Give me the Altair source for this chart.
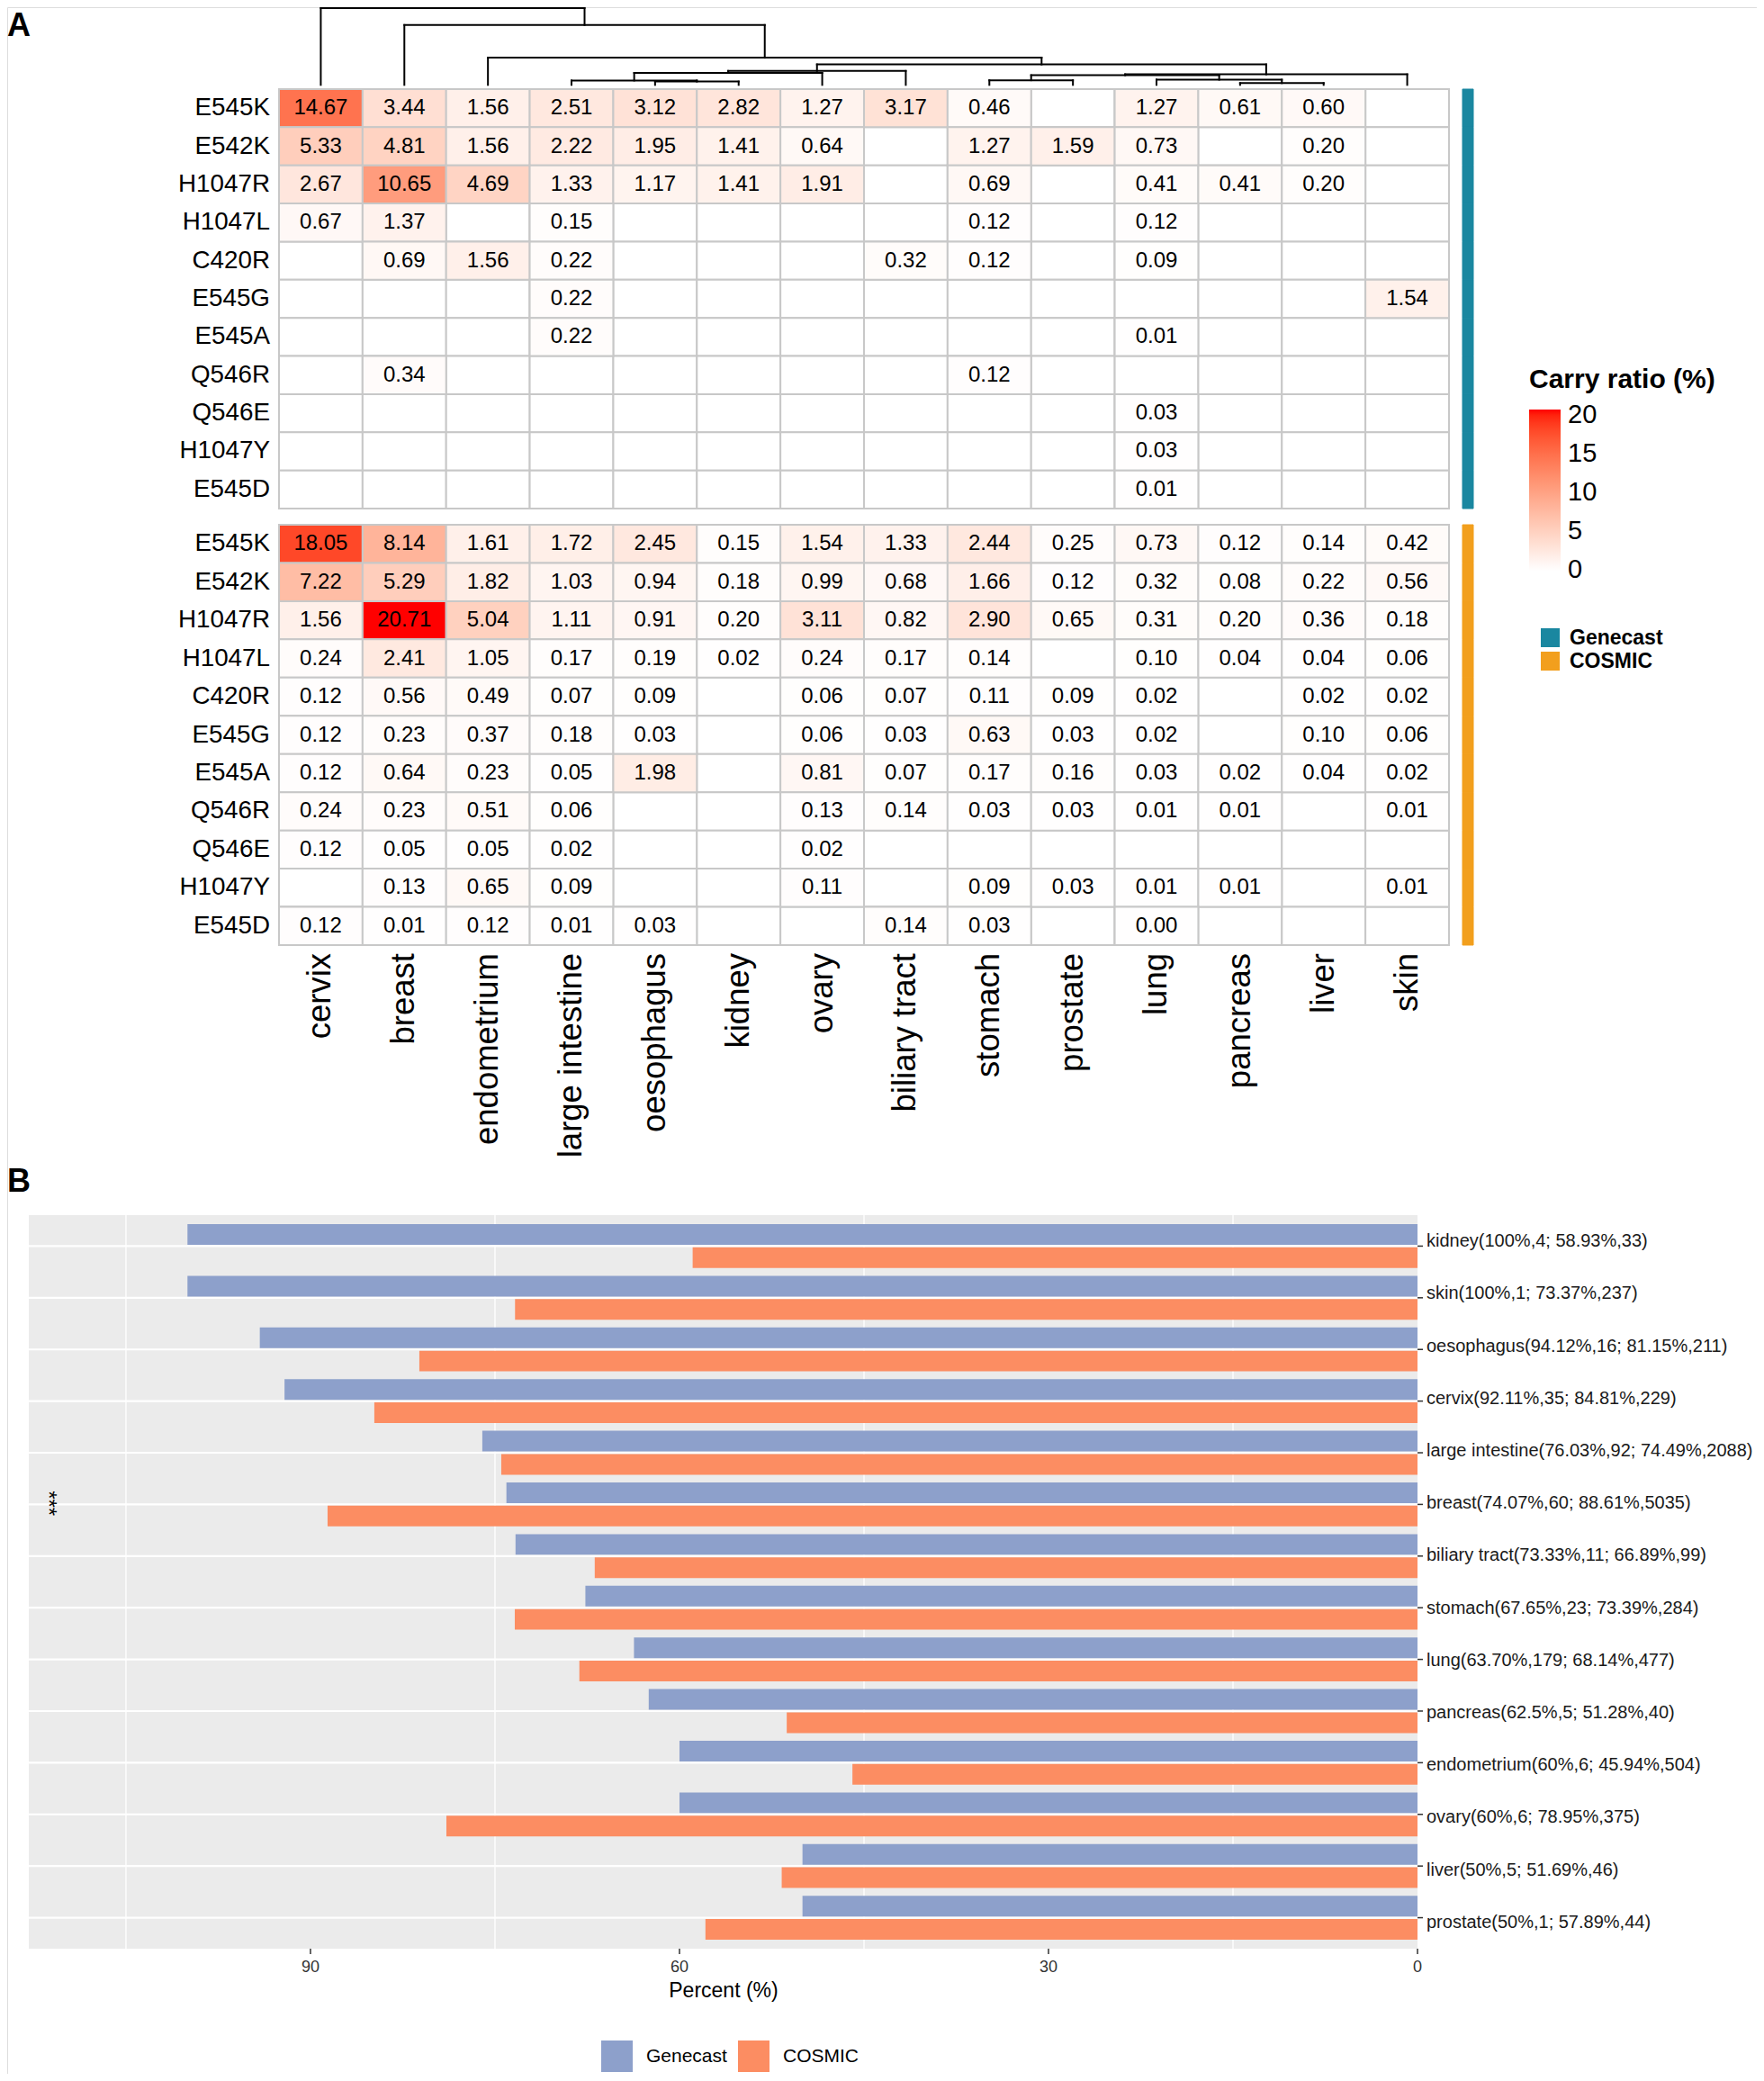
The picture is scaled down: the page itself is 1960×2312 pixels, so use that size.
import altair as alt
import pandas as pd

# ---------------- data ----------------
tissues = ["cervix", "breast", "endometrium", "large intestine", "oesophagus", "kidney",
           "ovary", "biliary tract", "stomach", "prostate", "lung", "pancreas", "liver", "skin"]
mutations = ["E545K", "E542K", "H1047R", "H1047L", "C420R", "E545G", "E545A",
             "Q546R", "Q546E", "H1047Y", "E545D"]
N = None
genecast_ratio = [
    [14.67, 3.44, 1.56, 2.51, 3.12, 2.82, 1.27, 3.17, 0.46, N, 1.27, 0.61, 0.60, N],
    [5.33, 4.81, 1.56, 2.22, 1.95, 1.41, 0.64, N, 1.27, 1.59, 0.73, N, 0.20, N],
    [2.67, 10.65, 4.69, 1.33, 1.17, 1.41, 1.91, N, 0.69, N, 0.41, 0.41, 0.20, N],
    [0.67, 1.37, N, 0.15, N, N, N, N, 0.12, N, 0.12, N, N, N],
    [N, 0.69, 1.56, 0.22, N, N, N, 0.32, 0.12, N, 0.09, N, N, N],
    [N, N, N, 0.22, N, N, N, N, N, N, N, N, N, 1.54],
    [N, N, N, 0.22, N, N, N, N, N, N, 0.01, N, N, N],
    [N, 0.34, N, N, N, N, N, N, 0.12, N, N, N, N, N],
    [N, N, N, N, N, N, N, N, N, N, 0.03, N, N, N],
    [N, N, N, N, N, N, N, N, N, N, 0.03, N, N, N],
    [N, N, N, N, N, N, N, N, N, N, 0.01, N, N, N],
]
cosmic_ratio = [
    [18.05, 8.14, 1.61, 1.72, 2.45, 0.15, 1.54, 1.33, 2.44, 0.25, 0.73, 0.12, 0.14, 0.42],
    [7.22, 5.29, 1.82, 1.03, 0.94, 0.18, 0.99, 0.68, 1.66, 0.12, 0.32, 0.08, 0.22, 0.56],
    [1.56, 20.71, 5.04, 1.11, 0.91, 0.20, 3.11, 0.82, 2.90, 0.65, 0.31, 0.20, 0.36, 0.18],
    [0.24, 2.41, 1.05, 0.17, 0.19, 0.02, 0.24, 0.17, 0.14, N, 0.10, 0.04, 0.04, 0.06],
    [0.12, 0.56, 0.49, 0.07, 0.09, N, 0.06, 0.07, 0.11, 0.09, 0.02, N, 0.02, 0.02],
    [0.12, 0.23, 0.37, 0.18, 0.03, N, 0.06, 0.03, 0.63, 0.03, 0.02, N, 0.10, 0.06],
    [0.12, 0.64, 0.23, 0.05, 1.98, N, 0.81, 0.07, 0.17, 0.16, 0.03, 0.02, 0.04, 0.02],
    [0.24, 0.23, 0.51, 0.06, N, N, 0.13, 0.14, 0.03, 0.03, 0.01, 0.01, N, 0.01],
    [0.12, 0.05, 0.05, 0.02, N, N, 0.02, N, N, N, N, N, N, N],
    [N, 0.13, 0.65, 0.09, N, N, 0.11, N, 0.09, 0.03, 0.01, 0.01, N, 0.01],
    [0.12, 0.01, 0.12, 0.01, 0.03, N, N, 0.14, 0.03, N, 0.00, N, N, N],
]
# column dendrogram: (left child, right child, merge height); "#k" = k-th merge
dendro_merges = [
    ("oesophagus", "kidney", 3.8),
    ("large intestine", "#0", 5.0),
    ("#1", "ovary", 13.6),
    ("#2", "biliary tract", 15.9),
    ("pancreas", "liver", 2.0),
    ("lung", "#4", 5.9),
    ("stomach", "prostate", 5.3),
    ("#6", "#5", 11.0),
    ("#7", "skin", 12.0),
    ("#3", "#8", 23.3),
    ("endometrium", "#9", 31.0),
    ("breast", "#10", 68.3),
    ("cervix", "#11", 87.6),
]
sources = ["Genecast", "COSMIC"]
legend_ticks = [0, 5, 10, 15, 20]

bar_tissues = ["kidney", "skin", "oesophagus", "cervix", "large intestine", "breast",
               "biliary tract", "stomach", "lung", "pancreas", "endometrium", "ovary",
               "liver", "prostate"]
genecast_pct = [100, 100, 94.12, 92.11, 76.03, 74.07, 73.33, 67.65, 63.70, 62.5, 60, 60, 50, 50]
cosmic_pct = [58.93, 73.37, 81.15, 84.81, 74.49, 88.61, 66.89, 73.39, 68.14, 51.28,
              45.94, 78.95, 51.69, 57.89]
bar_labels = ["kidney(100%,4; 58.93%,33)", "skin(100%,1; 73.37%,237)",
              "oesophagus(94.12%,16; 81.15%,211)", "cervix(92.11%,35; 84.81%,229)",
              "large intestine(76.03%,92; 74.49%,2088)", "breast(74.07%,60; 88.61%,5035)",
              "biliary tract(73.33%,11; 66.89%,99)", "stomach(67.65%,23; 73.39%,284)",
              "lung(63.70%,179; 68.14%,477)", "pancreas(62.5%,5; 51.28%,40)",
              "endometrium(60%,6; 45.94%,504)", "ovary(60%,6; 78.95%,375)",
              "liver(50%,5; 51.69%,46)", "prostate(50%,1; 57.89%,44)"]
x_ticks = [0, 30, 60, 90]
x_grid = [15, 45, 75, 105]
signif_tissue = ["breast"]
signif_text = ["***"]
signif_x = [111.4]

# ---------------- layout helpers ----------------
FONT = "Liberation Sans"
M = 8
def px(v):
    return v - M

GRID = "#C8C8C8"
HEAT_DOMAIN = [-0.06, 20.71]
heat_scale = alt.Scale(domain=HEAT_DOMAIN, range=["#FFFFFF", "#FF0000"], interpolate="lab",
                       nice=False, zero=False)
src_scale = alt.Scale(domain=sources, range=["#1A87A0", "#F29F1D"])
bar_col_scale = alt.Scale(domain=sources, range=["#8DA0CB", "#FC8D62"])

LEG_X, LEG_Y, TITLE_FS, TITLE_PAD, GRAD_LEN, GRAD_W = 1699, 407, 30, 18, 179, 35
heat_legend = alt.Legend(orient="none", legendX=px(LEG_X), legendY=px(LEG_Y),
                         title="Carry ratio (%)", titleFont=FONT, titleFontSize=TITLE_FS,
                         titleFontWeight="bold", titleColor="black", titlePadding=TITLE_PAD,
                         titleLimit=500, labelFont=FONT, labelFontSize=29, labelColor="black",
                         labelOffset=8, gradientLength=GRAD_LEN, gradientThickness=GRAD_W,
                         gradientStrokeWidth=0, values=legend_ticks,
                         direction="vertical", labelOverlap=False, padding=0)
src_legend = alt.Legend(orient="none", legendX=px(1711), legendY=px(697), title=None,
                        symbolType="square", symbolSize=441, symbolStrokeWidth=0,
                        labelFont=FONT, labelFontSize=23, labelFontWeight="bold",
                        labelColor="black", labelOffset=10, rowPadding=2, padding=0)
bar_legend = alt.Legend(orient="none", direction="horizontal", legendX=px(668),
                        legendY=px(2267), title=None, symbolType="square", symbolSize=1225,
                        symbolStrokeWidth=0, labelFont=FONT, labelFontSize=21,
                        labelColor="black", labelOffset=15, columnPadding=12, padding=0)

layers = []
one = pd.DataFrame({"k": [0]})

# ---------------- panel A: heatmap blocks ----------------
def heat_block(values, source, top, bottom, first):
    rows = []
    for i, m in enumerate(mutations):
        for j, t in enumerate(tissues):
            rows.append({"mutation": m, "tissue": t, "value": values[i][j], "source": source})
    df = pd.DataFrame(rows)
    xs = alt.Scale(domain=tissues, range=[px(310), px(1610)], paddingInner=0, paddingOuter=0)
    ys = alt.Scale(domain=mutations, range=[px(top), px(bottom)], paddingInner=0, paddingOuter=0)
    X = alt.X("tissue:N", scale=xs, axis=None)
    Y = alt.Y("mutation:N", scale=ys, axis=None)
    base = alt.Chart(df)
    out = []
    out.append(base.mark_rect(fill="white", stroke=GRID, strokeWidth=2).encode(x=X, y=Y))
    out.append(base.transform_filter("isValid(datum.value)")
               .mark_rect(stroke=GRID, strokeWidth=2)
               .encode(x=X, y=Y, color=alt.Color("value:Q", scale=heat_scale,
                                                  legend=heat_legend if first else None)))
    out.append(base.transform_filter("isValid(datum.value)")
               .mark_text(font=FONT, fontSize=24, color="black", baseline="middle")
               .encode(x=X, y=Y, text=alt.Text("value:Q", format=".2f")))
    lab = pd.DataFrame({"mutation": mutations, "source": source})
    out.append(alt.Chart(lab).mark_text(font=FONT, fontSize=27.8, color="black", align="right",
                                        baseline="middle")
               .encode(y=Y, x=alt.value(px(300)), text="mutation:N"))
    out.append(alt.Chart(lab).mark_rect(strokeWidth=1)
               .encode(y=Y, x=alt.value(px(1625)), x2=alt.value(px(1637)),
                       color=alt.Color("source:N", scale=src_scale,
                                       legend=src_legend if first else None),
                       stroke=alt.Stroke("source:N", scale=src_scale, legend=None)))
    return out, X

g_layers, X_heat = heat_block(genecast_ratio, "Genecast", 99, 565, True)
c_layers, _ = heat_block(cosmic_ratio, "COSMIC", 583, 1050, False)
layers += g_layers + c_layers

# colourbar tick dashes (white), on the legend gradient's own value scale
grad_top = LEG_Y + TITLE_FS + TITLE_PAD
leg_y = alt.Y("v:Q", scale=alt.Scale(domain=HEAT_DOMAIN,
                                     range=[px(grad_top + GRAD_LEN), px(grad_top)],
                                     nice=False, zero=False), axis=None)
dash_df = pd.DataFrame({"v": legend_ticks})
for x0, x1 in [(LEG_X, LEG_X + 7), (LEG_X + GRAD_W - 8, LEG_X + GRAD_W)]:
    layers.append(alt.Chart(dash_df).mark_rule(color="white", strokeWidth=1.6)
                  .encode(y=leg_y, x=alt.value(px(x0)), x2=alt.value(px(x1))))

# column labels
layers.append(alt.Chart(pd.DataFrame({"tissue": tissues}))
              .mark_text(font=FONT, fontSize=36.5, color="black", angle=270, align="right",
                         baseline="middle")
              .encode(x=X_heat, y=alt.value(px(1059)), text="tissue:N"))

# dendrogram
pos = {t: i for i, t in enumerate(tissues)}
hgt = {t: 0.0 for t in tissues}
segs = []
for k, (a, b, h) in enumerate(dendro_merges):
    xa, ha, xb, hb = pos[a], hgt[a], pos[b], hgt[b]
    segs.append({"x": xa, "x2": xa, "y": ha, "y2": h})
    segs.append({"x": xb, "x2": xb, "y": hb, "y2": h})
    segs.append({"x": xa, "x2": xb, "y": h, "y2": h})
    pos["#%d" % k] = (xa + xb) / 2
    hgt["#%d" % k] = h
layers.append(alt.Chart(pd.DataFrame(segs)).mark_rule(color="black", strokeWidth=2,
                                                       strokeCap="square")
              .encode(x=alt.X("x:Q", scale=alt.Scale(domain=[-0.5, 13.5],
                                                     range=[px(310), px(1610)],
                                                     nice=False, zero=False), axis=None),
                      x2="x2:Q",
                      y=alt.Y("y:Q", scale=alt.Scale(domain=[0, 87.6],
                                                     range=[px(94.3), px(9)],
                                                     nice=False, zero=False), axis=None),
                      y2="y2:Q"))

# ---------------- panel B: bars ----------------
x_bar = alt.Scale(domain=[0, 112.9], range=[px(1575), px(32)], nice=False, zero=False)
y_bar = alt.Scale(domain=bar_tissues, range=[px(1350), px(2165)], paddingInner=0.15,
                  paddingOuter=0.175)
YB = alt.Y("tissue:N", scale=y_bar, axis=None)

layers.append(alt.Chart(one).mark_rect(color="#EBEBEB")
              .encode(x=alt.value(px(32)), x2=alt.value(px(1575)),
                      y=alt.value(px(1350)), y2=alt.value(px(2165))))
layers.append(alt.Chart(pd.DataFrame({"g": x_grid})).mark_rule(color="white", strokeWidth=1.3)
              .encode(x=alt.X("g:Q", scale=x_bar, axis=None),
                      y=alt.value(px(1350)), y2=alt.value(px(2165))))
layers.append(alt.Chart(pd.DataFrame({"tissue": bar_tissues})).mark_rule(color="white",
                                                                           strokeWidth=2.2)
              .encode(y=YB, x=alt.value(px(32)), x2=alt.value(px(1575))))

bar_rows = []
for t, g, c in zip(bar_tissues, genecast_pct, cosmic_pct):
    bar_rows.append({"tissue": t, "source": "Genecast", "value": g})
    bar_rows.append({"tissue": t, "source": "COSMIC", "value": c})
layers.append(alt.Chart(pd.DataFrame(bar_rows)).mark_bar()
              .encode(y=YB,
                      yOffset=alt.YOffset("source:N", sort=sources,
                                          scale=alt.Scale(domain=sources, paddingInner=0.111,
                                                          paddingOuter=0)),
                      x=alt.X("value:Q", scale=x_bar, axis=None),
                      color=alt.Color("source:N", scale=bar_col_scale, legend=bar_legend)))

# right-hand category labels and ticks
lab_df = pd.DataFrame({"tissue": bar_tissues, "label": bar_labels})
layers.append(alt.Chart(lab_df).mark_rule(color="#333333", strokeWidth=1.5)
              .encode(y=YB, x=alt.value(px(1575)), x2=alt.value(px(1581))))
layers.append(alt.Chart(lab_df).mark_text(font=FONT, fontSize=20, color="#1A1A1A",
                                          align="left", baseline="middle")
              .encode(y=YB, x=alt.value(px(1585)), text="label:N"))

# x ticks, labels, title
tick_df = pd.DataFrame({"v": x_ticks})
layers.append(alt.Chart(tick_df).mark_rule(color="#333333", strokeWidth=1.5)
              .encode(x=alt.X("v:Q", scale=x_bar, axis=None),
                      y=alt.value(px(2165)), y2=alt.value(px(2171))))
layers.append(alt.Chart(tick_df).mark_text(font=FONT, fontSize=18, color="#333333",
                                           baseline="middle")
              .encode(x=alt.X("v:Q", scale=x_bar, axis=None), y=alt.value(px(2186)),
                      text="v:Q"))
layers.append(alt.Chart(pd.DataFrame({"t": ["Percent (%)"]}))
              .mark_text(font=FONT, fontSize=23, color="black", baseline="middle")
              .encode(x=alt.value(px(804)), y=alt.value(px(2212)), text="t:N"))

# significance mark
layers.append(alt.Chart(pd.DataFrame({"tissue": signif_tissue, "t": signif_text,
                                      "x": signif_x}))
              .mark_text(font=FONT, fontSize=24, color="black", angle=90, baseline="middle")
              .encode(x=alt.X("x:Q", scale=x_bar, axis=None), y=YB, text="t:N"))

# panel letters
for letter, yb in [("A", 40), ("B", 1324)]:
    layers.append(alt.Chart(pd.DataFrame({"t": [letter]}))
                  .mark_text(font=FONT, fontSize=36, fontWeight="bold", color="black",
                             align="left", baseline="alphabetic")
                  .encode(x=alt.value(0), y=alt.value(px(yb)), text="t:N"))

chart = (alt.layer(*layers)
         .properties(width=1944, height=2296, padding=0,
                     autosize=alt.AutoSizeParams(type="none"))
         .resolve_scale(x="independent", y="independent", color="independent",
                        stroke="independent")
         .configure_view(stroke=None)
         .configure(font=FONT))

chart.save("out.html", embed_options={"renderer": "svg", "actions": False})
